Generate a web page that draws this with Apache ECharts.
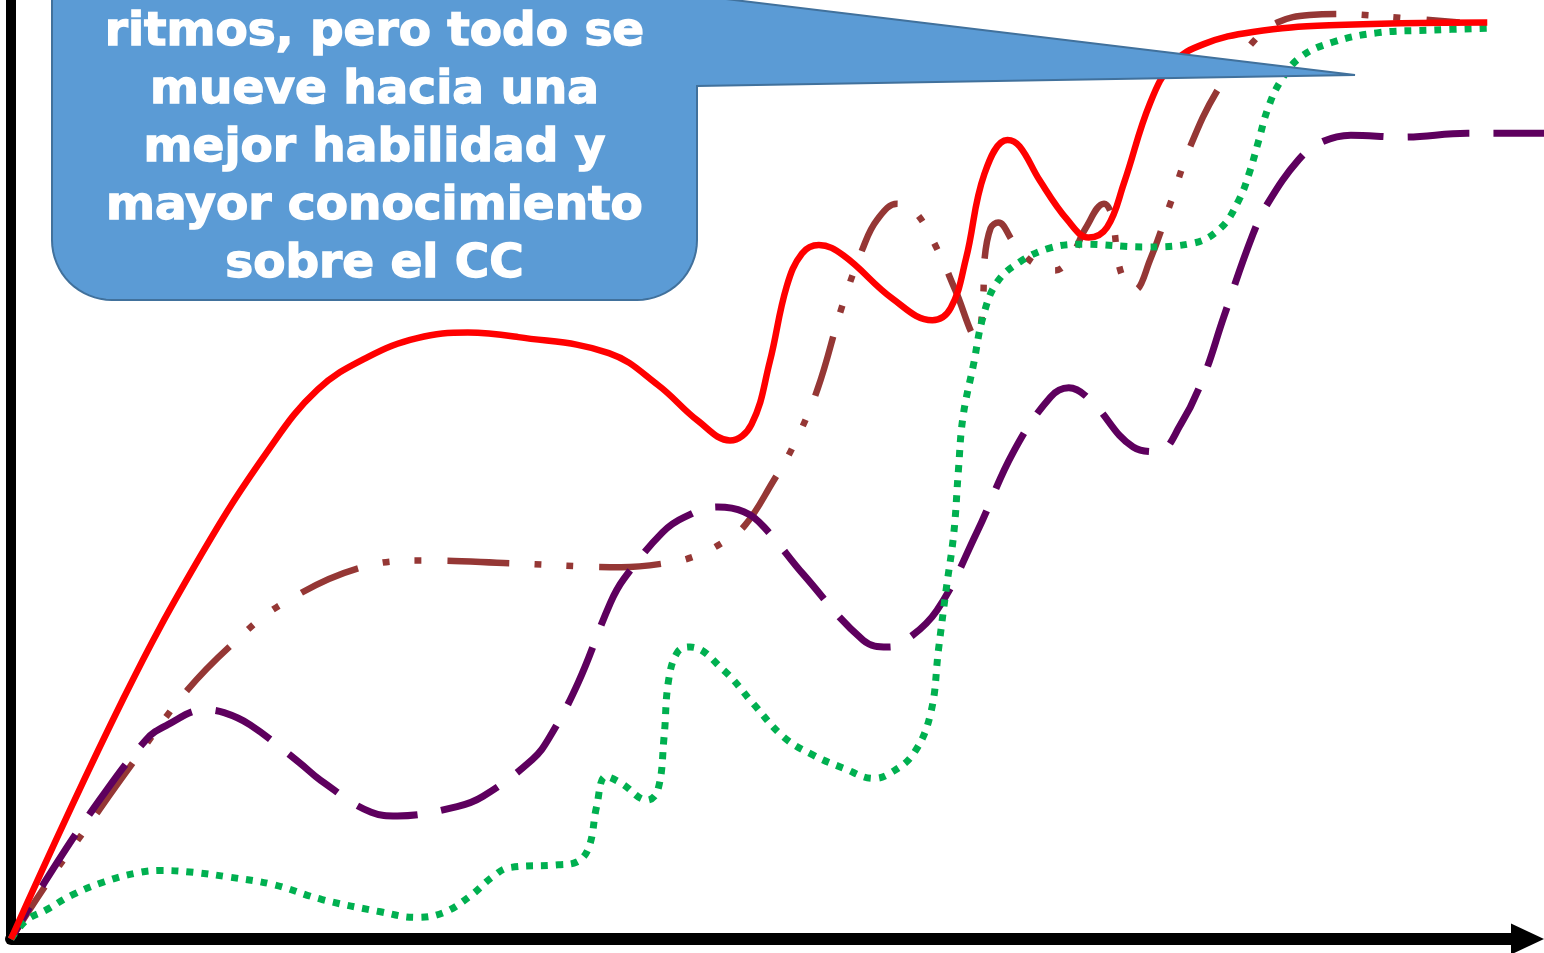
<!DOCTYPE html>
<html><head><meta charset="utf-8">
<script src="https://cdn.jsdelivr.net/npm/echarts@6/dist/echarts.min.js"></script>
<style>html,body{margin:0;padding:0;background:#fff;}#c{width:1544px;height:953px;}</style>
</head><body><div id="c"></div>
<script>
// Each series: [x, y] on a 0–100 scale for both axes
const redPoints = [[0,0],[7.3,25.5],[12.4,40.9],[16.8,52.1],[20.0,58.5],[23.3,62.0],[26.5,64.0],[29.8,64.6],[33.1,64.1],[39.0,62.4],[42.2,59.0],[44.8,55.2],[46.9,53.1],[48.3,54.8],[49.5,61.5],[50.6,69.5],[51.6,73.0],[52.7,73.9],[54.3,72.8],[57.5,68.2],[60.1,65.9],[61.3,67.2],[62.3,72.5],[63.5,81.5],[65.0,85.1],[65.8,84.4],[67.1,80.8],[68.9,76.6],[70.3,74.7],[71.5,75.8],[72.6,80.5],[74.3,89.0],[75.8,93.3],[77.8,95.3],[81.0,96.6],[86.0,97.3],[96.3,97.6]];
const brownPoints = [[0,0],[2.3,5.8],[4.6,11.1],[8.1,19.1],[11.5,26.5],[14.5,31.5],[17.6,35.6],[22.9,39.6],[26.9,40.3],[32.7,40.0],[39.8,39.6],[42.6,40.0],[44.5,40.7],[46.4,42.2],[47.9,44.1],[49.7,48.7],[51.0,52.4],[52.6,58.5],[54.2,67.3],[55.6,73.7],[56.5,76.6],[57.8,78.3],[59.0,77.4],[60.5,73.2],[61.6,69.1],[63.0,64.0],[63.4,68.1],[63.5,72.3],[63.9,75.7],[64.4,76.3],[65.4,74.2],[66.6,72.1],[68.1,71.2],[69.1,72.5],[70.1,75.7],[71.3,78.3],[71.8,77.1],[72.4,71.0],[73.3,69.1],[74.3,72.3],[75.6,78.2],[76.9,84.3],[78.7,90.4],[81.0,95.5],[82.6,97.6],[84.7,98.4],[86.7,98.5],[90.6,98.1],[94.5,97.6]];
const purplePoints = [[0,0],[2.1,5.8],[5.3,13.7],[8.8,21.2],[10.2,22.8],[12.6,24.4],[13.9,24.1],[15.6,22.8],[18.8,18.8],[20.2,16.9],[23.5,13.5],[25.2,13.1],[29.1,14.1],[30.8,15.2],[34.0,19.1],[35.1,21.4],[37.0,27.3],[39.1,35.8],[40.0,38.4],[42.5,43.3],[43.9,44.9],[46.1,46.0],[47.8,45.5],[49.1,43.9],[51.7,38.8],[55.6,31.8],[57.2,31.1],[58.2,31.6],[60.4,35.0],[63.0,43.3],[65.4,51.9],[67.8,57.7],[69.0,58.7],[70.4,57.4],[73.2,52.4],[74.8,51.9],[76.3,54.8],[77.8,59.9],[79.1,66.2],[81.0,75.0],[82.0,78.4],[84.0,83.0],[85.4,84.8],[87.4,85.6],[90.8,85.4],[95.0,85.8],[100,85.8]];
const greenPoints = [[0,0],[1.0,2.0],[2.3,3.1],[4.0,4.7],[6.1,6.1],[8.1,7.0],[9.8,7.3],[11.9,7.1],[14.2,6.6],[17.1,5.8],[20.3,4.2],[24.1,2.9],[26.4,2.3],[28.2,2.8],[29.9,4.5],[31.4,6.6],[32.5,7.6],[35.7,7.9],[36.9,8.2],[37.7,9.8],[38.2,14.1],[38.8,17.3],[39.8,16.6],[41.5,14.8],[42.2,15.9],[42.6,21.5],[42.9,27.6],[43.5,30.6],[44.3,31.1],[46.5,28.6],[48.4,25.1],[50.4,21.5],[52.3,19.6],[54.3,18.2],[56.3,17.1],[57.4,17.7],[58.9,19.8],[60.0,24.1],[60.5,30.8],[61.0,37.2],[61.5,43.2],[61.8,49.9],[62.1,55.6],[62.8,61.3],[63.4,66.2],[64.3,69.9],[65.8,72.1],[67.8,73.6],[70.0,74.0],[73.9,73.7],[77.1,74.1],[78.9,75.7],[80.1,78.7],[80.8,81.7],[81.4,85.1],[82.0,88.5],[82.8,91.3],[84.1,93.9],[86.2,95.5],[89.1,96.5],[92.8,96.8],[96.3,97.0]];
const calloutLines = ['ritmos, pero todo se', 'mueve hacia una', 'mejor habilidad y', 'mayor conocimiento', 'sobre el CC'];

const chart = echarts.init(document.getElementById('c'), null, {renderer: 'canvas'});

function arcPts(cx, cy, r, a0, a1, n) {
  const p = [];
  for (let i = 0; i <= n; i++) {
    const a = a0 + (a1 - a0) * i / n;
    p.push([cx + r * Math.cos(a), cy + r * Math.sin(a)]);
  }
  return p;
}
const boxL = 52, boxR = 697, boxB = 300, rad = 60;
const calloutShape = [[boxL, -40], [boxR, -40], [boxR, -4.5], [1355, 75], [boxR, 86]]
  .concat(arcPts(boxR - rad, boxB - rad, rad, 0, Math.PI / 2, 16))
  .concat(arcPts(boxL + rad, boxB - rad, rad, Math.PI / 2, Math.PI, 16));

const textEls = calloutLines.map((t, i) => ({
  type: 'text', z: 120,
  style: {
    text: t, x: (boxL + boxR) / 2, y: 33 + i * 58,
    fill: '#ffffff', stroke: '#ffffff', lineWidth: 1.4, font: 'bold 47px "DejaVu Sans"',
    textAlign: 'center', textVerticalAlign: 'middle'
  }
}));

function lineSeries(name, pts, color, width, dash, z, dashOffset) {
  return {
    name, type: 'line', data: pts, showSymbol: false, smooth: 0.4, z,
    xAxisIndex: 0, yAxisIndex: 0,
    clip: false, silent: true, animation: false,
    lineStyle: {color, width, type: dash, dashOffset: dashOffset || 0, cap: 'butt', join: 'round'}
  };
}
const hidden = {axisLine: {show: false}, axisTick: {show: false}, axisLabel: {show: false}, splitLine: {show: false}};

chart.setOption({
  animation: false,
  grid: [
    {left: 11, right: 0, top: 0, bottom: 14},
    {left: 11, right: 20, top: 0, bottom: 14}
  ],
  xAxis: [
    Object.assign({type: 'value', min: 0, max: 100, gridIndex: 0}, hidden),
    {
      type: 'value', min: 0, max: 100, gridIndex: 1,
      axisLine: {show: true, symbol: ['none', 'triangle'], symbolSize: [31, 33], symbolOffset: [0, 3.5],
        lineStyle: {color: '#000', width: 12}},
      axisTick: {show: false}, axisLabel: {show: false}, splitLine: {show: false}
    }
  ],
  yAxis: [
    {
      type: 'value', min: 0, max: 100, gridIndex: 0,
      axisLine: {show: true, lineStyle: {color: '#000', width: 10}},
      axisTick: {show: false}, axisLabel: {show: false}, splitLine: {show: false}
    },
    Object.assign({type: 'value', min: 0, max: 100, gridIndex: 1}, hidden)
  ],
  series: [
    lineSeries('brown', brownPoints, '#953735', 6.5, [62, 25, 7, 25, 7, 26], 2, 0),
    lineSeries('purple', purplePoints, '#5E005E', 7, [62, 24], 3, 25),
    lineSeries('green', greenPoints, '#00B050', 7, [7, 8], 4, 0),
    lineSeries('red', redPoints, '#FF0000', 6.5, 'solid', 5, 0)
  ],
  graphic: {elements: [{
    type: 'polygon', z: 110,
    shape: {points: calloutShape},
    style: {fill: '#5B9BD5', stroke: '#41719C', lineWidth: 2}
  }].concat(textEls)}
});
</script></body></html>
